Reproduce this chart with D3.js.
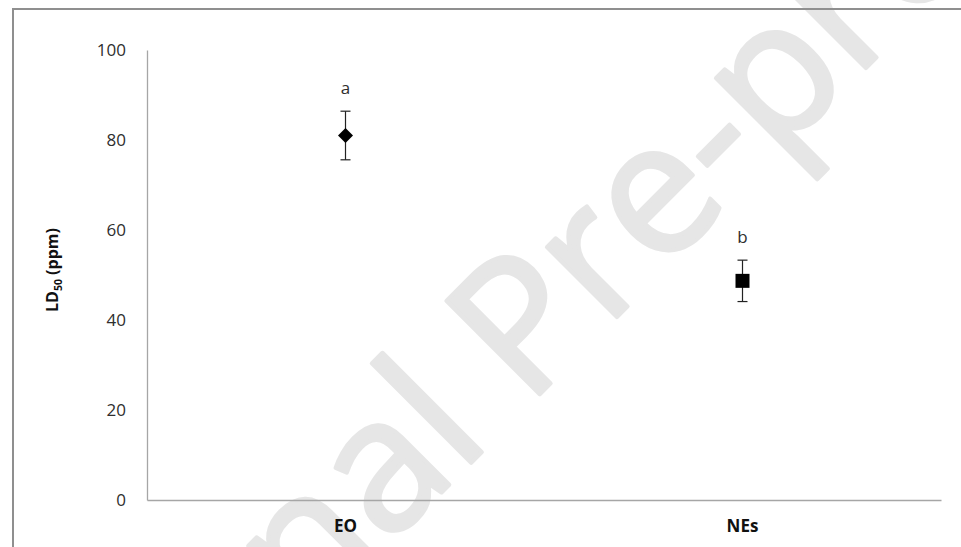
<!DOCTYPE html>
<html>
<head>
<meta charset="utf-8">
<script src="https://cdn.jsdelivr.net/npm/d3@7"></script>
<style>
  html, body { margin: 0; padding: 0; background: #fff; }
  svg { display: block; }
</style>
</head>
<body>
<svg id="chart" width="961" height="547"></svg>
<script>
// LD50 of the essential oil (EO) and its nanoemulsions (NEs)
const categories = ["EO", "NEs"];
const ld50 = [81.0, 48.7];
const ld50Err = [5.4, 4.6];
const groupLetters = ["a", "b"];
const markerShapes = ["diamond", "square"];
const yTicks = [0, 20, 40, 60, 80, 100];
const watermarkText = "Journal Pre-proof";

const svg = d3.select("#chart");
const W = 961, H = 547;
const font = "'Open Sans', 'Liberation Sans', sans-serif";

// Watermark, placed by the origin of its "l"
const wm = svg.append("text")
  .attr("font-family", font)
  .attr("font-size", 185)
  .attr("fill", "#e6e6e6")
  .attr("stroke", "#e6e6e6")
  .attr("stroke-width", 4)
  .attr("stroke-linejoin", "round")
  .text(watermarkText);
const adv = wm.node().getSubStringLength(0, 6);
const ang = Math.PI / 4;
const lx = 460, ly = 474;
wm.attr("transform", `translate(${lx - adv * Math.cos(ang)},${ly + adv * Math.sin(ang)}) rotate(-45)`);

// Frame
svg.append("path")
  .attr("d", `M13,${H} V9 H${W}`)
  .attr("fill", "none")
  .attr("stroke", "#8f8f8f")
  .attr("stroke-width", 2);

const x = d3.scaleBand().domain(categories).range([147, 941]);
const y = d3.scaleLinear().domain([0, 100]).range([500, 50]);

// Y axis
const yAxis = svg.append("g")
  .attr("transform", "translate(147,0)")
  .call(d3.axisLeft(y).tickValues(yTicks).tickSize(0).tickPadding(21));
yAxis.select(".domain").attr("stroke", "#a6a6a6").attr("stroke-width", 1.3);
yAxis.selectAll("text")
  .attr("font-family", font)
  .attr("font-size", 17)
  .attr("fill", "#2e2e2e");

// X axis
const xAxis = svg.append("g")
  .attr("transform", "translate(0,500)")
  .call(d3.axisBottom(x).tickSize(0).tickPadding(20));
xAxis.select(".domain").attr("stroke", "#a6a6a6").attr("stroke-width", 1.3);
xAxis.selectAll("text")
  .attr("font-family", font)
  .attr("font-size", 17)
  .attr("font-weight", "bold")
  .attr("fill", "#111");

// Y axis title
const yTitle = svg.append("text")
  .attr("transform", "translate(58,270) rotate(-90)")
  .attr("text-anchor", "middle")
  .attr("font-family", font)
  .attr("font-size", 16)
  .attr("font-weight", "bold")
  .attr("fill", "#111");
yTitle.append("tspan").text("LD");
yTitle.append("tspan").attr("font-size", 10.5).attr("dy", 4).text("50");
yTitle.append("tspan").attr("dy", -4).text(" (ppm)");

// Points with error bars
const data = categories.map((c, i) => ({
  cat: c, v: ld50[i], e: ld50Err[i], letter: groupLetters[i], shape: markerShapes[i]
}));

const pts = svg.append("g").selectAll("g").data(data).join("g")
  .attr("transform", d => `translate(${x(d.cat) + x.bandwidth() / 2},0)`);

pts.append("line")
  .attr("x1", 0).attr("x2", 0)
  .attr("y1", d => y(d.v + d.e)).attr("y2", d => y(d.v - d.e))
  .attr("stroke", "#222").attr("stroke-width", 1.2);
pts.selectAll("line.cap").data(d => [d.v + d.e, d.v - d.e]).join("line")
  .attr("class", "cap")
  .attr("x1", -5).attr("x2", 5)
  .attr("y1", v => y(v)).attr("y2", v => y(v))
  .attr("stroke", "#222").attr("stroke-width", 1.2);

pts.append("path")
  .attr("transform", d => `translate(0,${y(d.v)})`)
  .attr("d", d => d.shape === "diamond"
    ? "M0,-7.5 L7.5,0 L0,7.5 L-7.5,0 Z"
    : "M-7,-7 H7 V7 H-7 Z")
  .attr("fill", "#000");

pts.append("text")
  .attr("y", d => y(d.v + d.e) - 17)
  .attr("text-anchor", "middle")
  .attr("font-family", font)
  .attr("font-size", 17)
  .attr("fill", "#2e2e2e")
  .text(d => d.letter);
</script>
</body>
</html>
